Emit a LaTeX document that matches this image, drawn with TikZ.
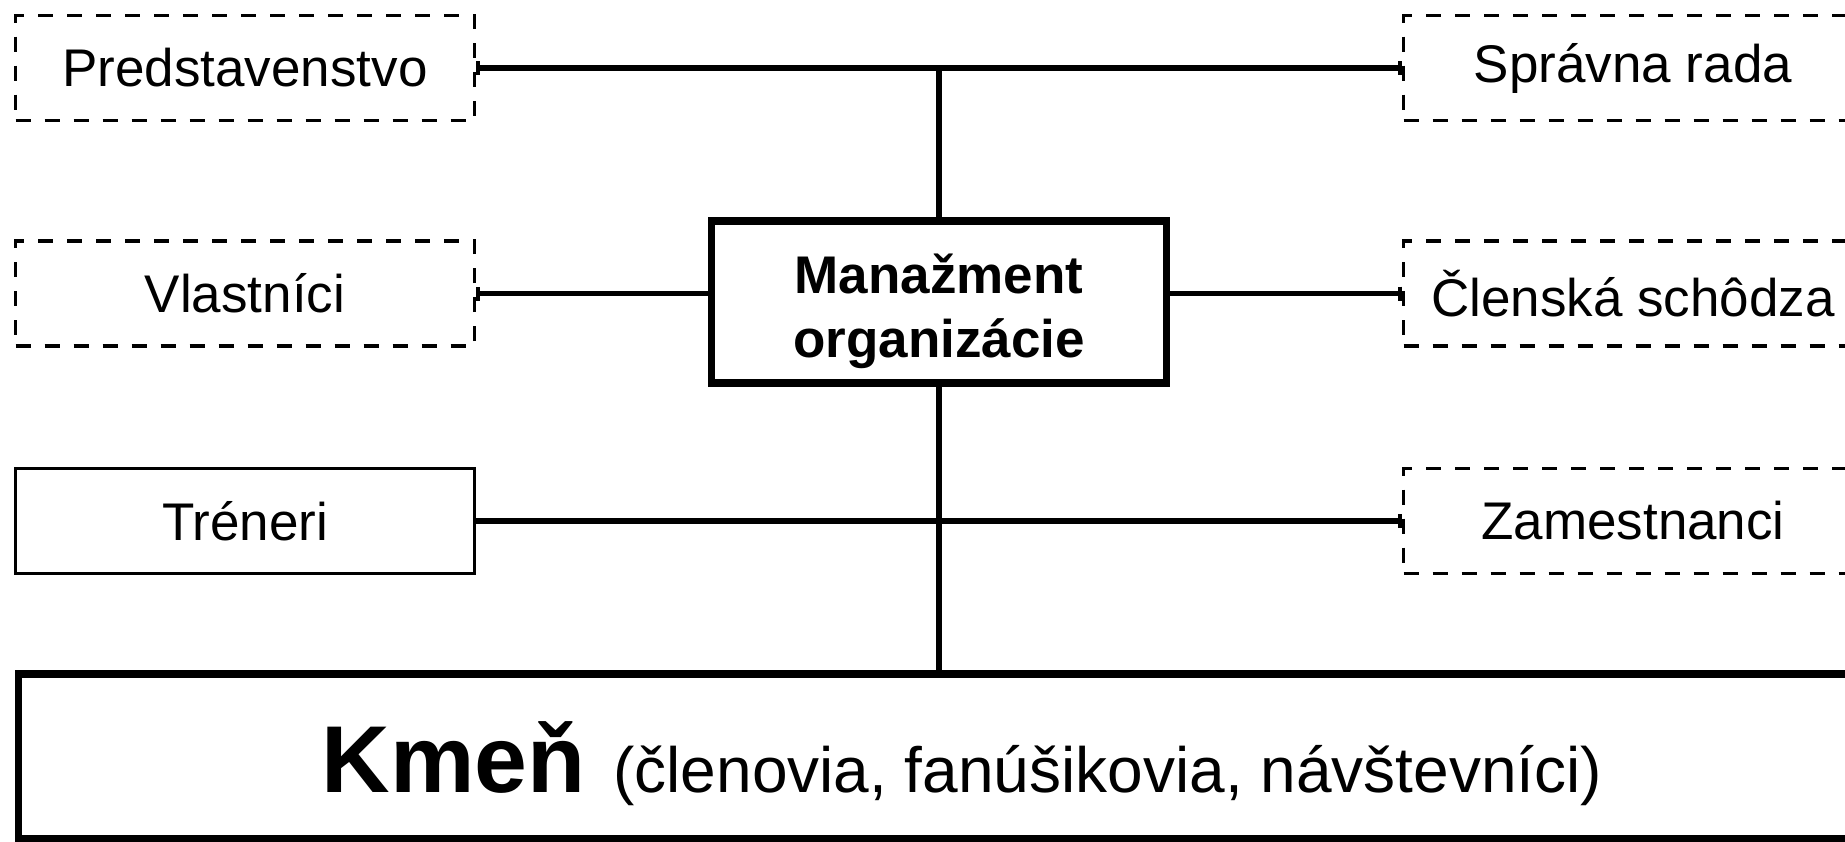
\documentclass[tikz,border=0pt]{standalone}
\usepackage{fontspec}
\setmainfont{Liberation Sans}
\usetikzlibrary{arrows.meta}
\tikzset{
  dbox/.style={draw, dash pattern=on 7.5pt off 7pt, line width=1.7pt, minimum width=229.5pt, minimum height=52.5pt, inner sep=0pt, font=\fontsize{26.5}{30}\selectfont},
  sbox/.style={draw, line width=1.6pt, minimum width=229.5pt, minimum height=52.5pt, inner sep=0pt, font=\fontsize{26.5}{30}\selectfont},
  mbox/.style={draw, line width=3.8pt, minimum width=227.5pt, minimum height=81pt, inner sep=0pt, align=center, font=\fontsize{26.5}{32}\selectfont\bfseries},
  kbox/.style={draw, line width=3.6pt, minimum width=943.5pt, minimum height=82.5pt, inner sep=0pt, text height=45.5pt, text depth=10pt},
  conn/.style={line width=2.7pt},
  tickend/.tip={Bar[width=7pt, line width=2pt]}
}
\begin{document}
\begin{tikzpicture}[x=0.5pt,y=-0.5pt]
\useasboundingbox (0,0) rectangle (1845,841);
\clip (0,0) rectangle (1845,841);
\fill[white] (0,0) rectangle (1845,841);
% left column
\node[dbox] (pred) at (245,68) {Predstavenstvo};
\node[dbox] (vlas) at (245,293.5) {Vlastníci};
\node[sbox] (tren) at (245,521) {Tréneri};
% right column
\node[dbox] (sprav) at (1633,68) {Správna rada};
\node[dbox] (clen) at (1633,293.5) {Členská schôdza};
\node[dbox] (zam) at (1633,521) {Zamestnanci};
% management
\node[mbox] (mgmt) at (939,302) {\rule{0pt}{29pt}Manažment\\organizácie};
% tribe
\node[kbox] (kmen) at (962,756.5) {{\fontsize{47.5}{50}\selectfont\bfseries Kmeň}\fontsize{32}{36}\selectfont\hspace{5pt}\ (členovia, fanúšikovia, návštevníci)};
% connectors
\draw[conn, tickend-tickend] (pred.east) -- (sprav.west);
\coordinate (topj) at (mgmt.north |- pred.east);
\draw[conn] (topj) -- (mgmt.north);
\draw[conn, tickend-] (vlas.east) -- (vlas.east -| mgmt.west);
\draw[conn, -tickend] (clen.west -| mgmt.east) -- (clen.west);
\draw[conn, -tickend] (tren.east) -- (zam.west);
\draw[conn] (mgmt.south) -- (mgmt.south |- kmen.north);
\end{tikzpicture}
\end{document}
